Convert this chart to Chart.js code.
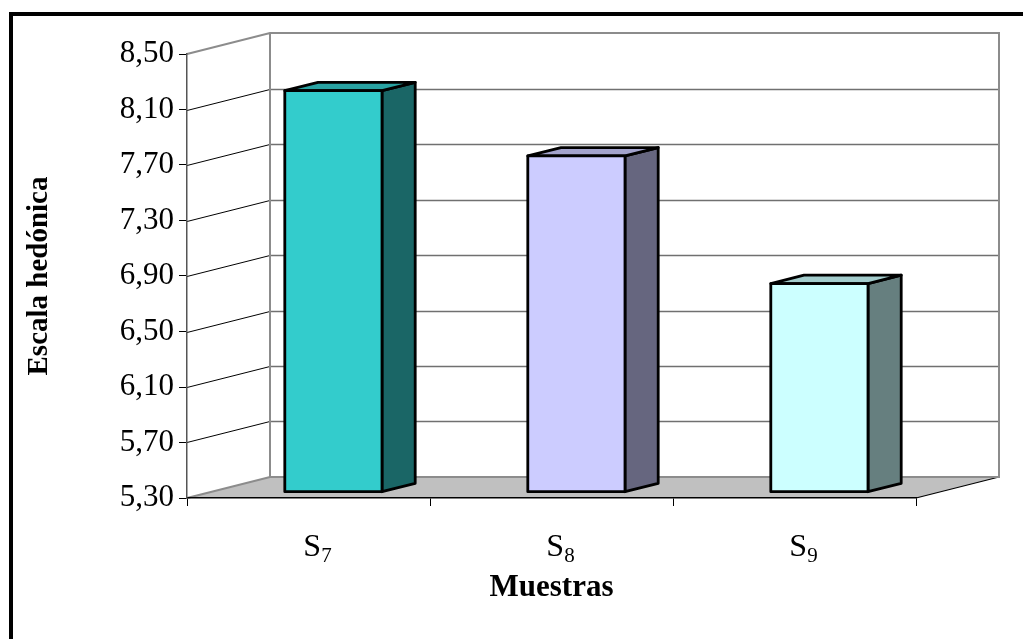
<!DOCTYPE html>
<html>
<head>
<meta charset="utf-8">
<script src="https://cdn.jsdelivr.net/npm/chart.js@4/dist/chart.umd.min.js"></script>
<style>
  html, body { margin: 0; padding: 0; background: #ffffff; overflow: hidden; }
  #wrap { position: relative; width: 1023px; height: 639px; overflow: hidden; }
  #frame {
    position: absolute; left: 9px; top: 12px; width: 1100px; height: 700px;
    border-left: 4px solid #000; border-top: 4px solid #000; box-sizing: border-box;
  }
  canvas { display: block; position: absolute; left: 0; top: 0; }
</style>
</head>
<body>
<div id="wrap">
  <div id="frame"></div>
  <canvas id="chart" width="1023" height="639"></canvas>
</div>
<script>
// Sample means on the hedonic scale
const categories = ['S7', 'S8', 'S9'];
const escalaHedonica = [8.19, 7.72, 6.80];
const yTickValues = [5.30, 5.70, 6.10, 6.50, 6.90, 7.30, 7.70, 8.10, 8.50];
const yTickLabels = ['5,30', '5,70', '6,10', '6,50', '6,90', '7,30', '7,70', '8,10', '8,50'];
const yTitle = 'Escala hedónica';
const xTitle = 'Muestras';

// Styling of the pseudo-3D column chart
const frontColors = ['#33CCCC', '#CCCCFF', '#CCFFFF'];
const topColors   = ['#29A3A3', '#A3A3CC', '#A3CCCC'];
const sideColors  = ['#1A6666', '#66667F', '#667F7F'];
const DEPTH = { x: 83, y: -21 };      // oblique offset from front plane to back wall
const BAR_DEPTH = [0.3, 0.7];         // bar front / back as fraction of depth
const SERIF = '"Liberation Serif", "Times New Roman", serif';

const depthPlugin = {
  id: 'depth3d',
  beforeDraw(chart) {
    const { ctx, chartArea: a, scales: { y } } = chart;
    const dx = DEPTH.x, dy = DEPTH.y;
    const y0 = y.getPixelForValue(y.min);
    const y1 = y.getPixelForValue(y.max);
    ctx.save();

    // floor
    ctx.fillStyle = '#C0C0C0';
    ctx.beginPath();
    ctx.moveTo(a.left, y0);
    ctx.lineTo(a.left + dx, y0 + dy);
    ctx.lineTo(a.right + dx, y0 + dy);
    ctx.lineTo(a.right, y0);
    ctx.closePath();
    ctx.fill();
    ctx.strokeStyle = '#000';
    ctx.lineWidth = 1.2;
    ctx.beginPath();
    ctx.moveTo(a.right, y0);
    ctx.lineTo(a.right + dx, y0 + dy);
    ctx.stroke();

    // gridlines: diagonal on the side wall, horizontal on the back wall
    yTickValues.forEach((v, i) => {
      if (i === 0 || i === yTickValues.length - 1) return;
      const py = Math.round(y.getPixelForValue(v)) + 0.5;
      ctx.strokeStyle = '#000';
      ctx.lineWidth = 1;
      ctx.beginPath();
      ctx.moveTo(a.left, py);
      ctx.lineTo(a.left + dx, py + dy);
      ctx.stroke();
      ctx.strokeStyle = '#707070';
      ctx.lineWidth = 1.5;
      ctx.beginPath();
      ctx.moveTo(a.left + dx, py + dy);
      ctx.lineTo(a.right + dx, py + dy);
      ctx.stroke();
    });

    // wall outlines
    ctx.strokeStyle = '#8C8C8C';
    ctx.lineWidth = 2;
    ctx.beginPath();
    ctx.moveTo(a.left, y0);
    ctx.lineTo(a.left + dx, y0 + dy);
    ctx.lineTo(a.right + dx, y0 + dy);
    ctx.lineTo(a.right + dx, y1 + dy);
    ctx.lineTo(a.left + dx, y1 + dy);
    ctx.lineTo(a.left, y1);
    ctx.moveTo(a.left + dx, y0 + dy);
    ctx.lineTo(a.left + dx, y1 + dy);
    ctx.stroke();
    ctx.restore();
  },
  afterDatasetsDraw(chart) {
    const { ctx, scales: { x, y } } = chart;
    const meta = chart.getDatasetMeta(0);
    const f0 = BAR_DEPTH[0], f1 = BAR_DEPTH[1];
    const ox = DEPTH.x * f0, oy = DEPTH.y * f0;
    const ddx = DEPTH.x * (f1 - f0), ddy = DEPTH.y * (f1 - f0);
    const floorPx = y.getPixelForValue(y.min);
    ctx.save();
    ctx.lineJoin = 'round';
    ctx.strokeStyle = '#000';
    ctx.lineWidth = 2.8;
    meta.data.forEach((el, i) => {
      const p = el.getProps(['x', 'y', 'width'], true);
      const xl = p.x - p.width / 2 + ox;
      const xr = p.x + p.width / 2 + ox;
      const yt = p.y + oy;
      const yb = floorPx + oy;
      // side face
      ctx.fillStyle = sideColors[i];
      ctx.beginPath();
      ctx.moveTo(xr, yt);
      ctx.lineTo(xr + ddx, yt + ddy);
      ctx.lineTo(xr + ddx, yb + ddy);
      ctx.lineTo(xr, yb);
      ctx.closePath();
      ctx.fill();
      ctx.stroke();
      // top face
      ctx.fillStyle = topColors[i];
      ctx.beginPath();
      ctx.moveTo(xl, yt);
      ctx.lineTo(xl + ddx, yt + ddy);
      ctx.lineTo(xr + ddx, yt + ddy);
      ctx.lineTo(xr, yt);
      ctx.closePath();
      ctx.fill();
      ctx.stroke();
      // front face
      ctx.fillStyle = frontColors[i];
      ctx.beginPath();
      ctx.rect(xl, yt, xr - xl, yb - yt);
      ctx.fill();
      ctx.stroke();
    });

    // category labels with subscript digits
    ctx.fillStyle = '#000';
    ctx.textAlign = 'left';
    ctx.textBaseline = 'alphabetic';
    categories.forEach((c, i) => {
      const cx = x.getPixelForValue(i) + 9;
      const head = c.charAt(0), sub = c.slice(1);
      ctx.font = '32px ' + SERIF;
      const wh = ctx.measureText(head).width;
      ctx.font = '21px ' + SERIF;
      const ws = ctx.measureText(sub).width;
      const sx = cx - (wh + ws) / 2;
      ctx.font = '32px ' + SERIF;
      ctx.fillText(head, sx, x.top + 58);
      ctx.font = '21px ' + SERIF;
      ctx.fillText(sub, sx + wh, x.top + 64);
    });
    ctx.restore();
  }
};

new Chart(document.getElementById('chart'), {
  type: 'bar',
  data: {
    labels: categories,
    datasets: [{
      data: escalaHedonica,
      backgroundColor: 'rgba(0,0,0,0)',
      borderWidth: 0,
      categoryPercentage: 0.4,
      barPercentage: 1.0
    }]
  },
  options: {
    responsive: false,
    animation: false,
    devicePixelRatio: 1,
    layout: { padding: { left: 0, top: 54, right: 107, bottom: 0 } },
    plugins: { legend: { display: false }, tooltip: { enabled: false } },
    scales: {
      x: {
        type: 'category',
        offset: true,
        grid: { display: true, offset: true, drawOnChartArea: false, drawTicks: true, tickLength: 8, color: '#000', lineWidth: 1 },
        border: { display: true, color: '#000', width: 1.5 },
        ticks: { display: false },
        title: {
          display: true, text: xTitle, color: '#000',
          font: { family: SERIF, size: 31, weight: 'bold' },
          padding: { top: 0, bottom: 32 }
        },
        afterFit(s) { s.height = 141; }
      },
      y: {
        min: yTickValues[0],
        max: yTickValues[yTickValues.length - 1],
        afterBuildTicks(s) { s.ticks = yTickValues.map(v => ({ value: v })); },
        ticks: {
          callback: (v, i) => yTickLabels[i],
          color: '#000',
          font: { family: SERIF, size: 31 },
          padding: 5
        },
        grid: { drawOnChartArea: false, drawTicks: true, tickLength: 8, color: '#000', lineWidth: 1 },
        border: { display: true, color: '#555', width: 1.5 },
        title: {
          display: true, text: yTitle, color: '#000',
          font: { family: SERIF, size: 29, weight: 'bold' },
          padding: { top: 22.6, bottom: 0 }
        },
        afterFit(s) { s.width = 187; }
      }
    }
  },
  plugins: [depthPlugin]
});
</script>
</body>
</html>
